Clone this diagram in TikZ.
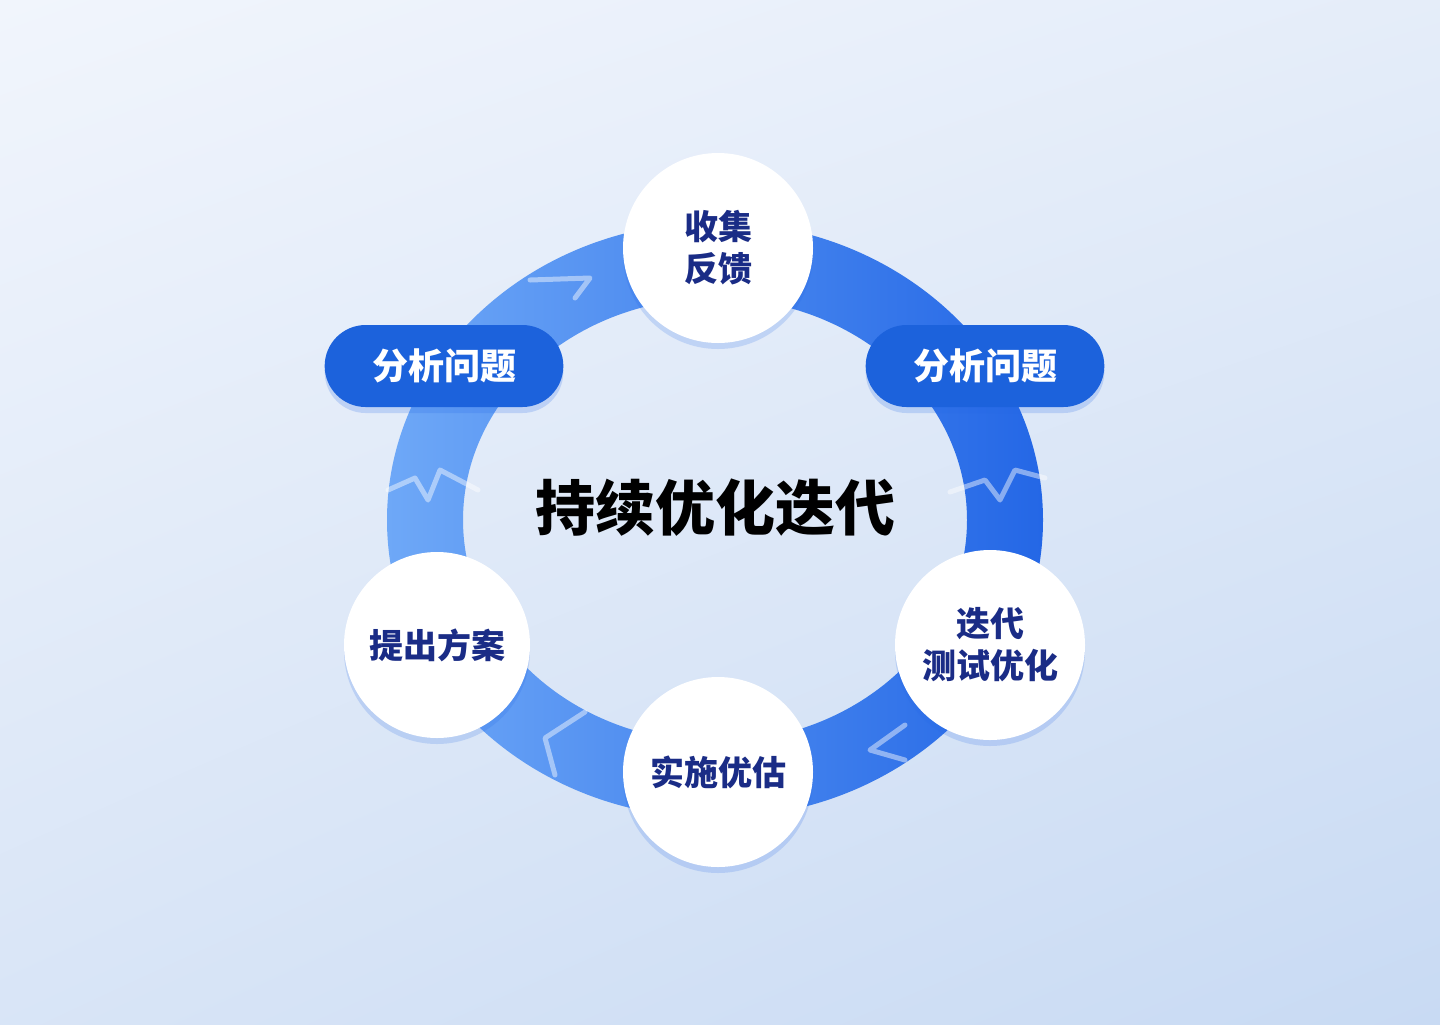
\documentclass[tikz,border=0pt]{standalone}
\usepackage{fontspec}
\setmainfont{Noto Sans CJK SC}
\usetikzlibrary{shadows,shapes.misc,shadings}
\definecolor{bgA}{HTML}{F1F5FC}
\definecolor{bgB}{HTML}{C8DAF3}
\definecolor{ringL}{HTML}{6EA8F7}
\definecolor{ringR}{HTML}{2467E6}
\definecolor{pill}{HTML}{1C62DC}
\definecolor{navy}{HTML}{1A2C86}
\begin{document}
\begin{tikzpicture}[x=0.5pt,y=-0.5pt,
  stepnode/.style={circle,minimum size=95pt,inner sep=0pt,fill=white,
    drop shadow={shadow xshift=0pt,shadow yshift=-3pt,fill=ringR,opacity=0.18},
    font=\bfseries\fontsize{17}{21}\selectfont,text=navy,align=center},
  pillbox/.style={rounded rectangle,minimum width=126pt,minimum height=41pt,fill=pill,
    drop shadow={shadow xshift=0pt,shadow yshift=-3pt,fill=ringR,opacity=0.2},
    font=\bfseries\fontsize{18}{20}\selectfont,text=white},
  ringmark/.style={white,opacity=0.45,line width=2.5pt,line cap=round,line join=round}]
\shade[upper left=bgA,upper right=bgA!70!bgB,lower left=bgA!40!bgB,lower right=bgB] (0,0) rectangle (1440,1024);
\useasboundingbox (0,0) rectangle (1440,1024);
% ring
\shade[left color=ringL,right color=ringR,even odd rule]
  (715,520) ellipse [x radius=328,y radius=298]
  (715,520) ellipse [x radius=252,y radius=222];
% marks
\draw[ringmark] (530,280) -- (590,278) -- (575,298);
\draw[ringmark] (388,490) -- (415,478) -- (428,500) -- (440,470) -- (478,490);
\draw[ringmark] (950,492) -- (985,480) -- (1000,500) -- (1015,470) -- (1045,478);
\draw[ringmark] (905,725) -- (870,750) -- (905,760);
\draw[ringmark] (585,712) -- (545,738) -- (555,775);
% nodes
\node[stepnode] (fb) at (718,248) {收集\\反馈};
\node[stepnode] (test) at (990,645) {迭代\\测试优化};
\node[stepnode] (impl) at (718,772) {实施优估};
\node[stepnode,minimum size=93pt] (plan) at (437,645) {提出方案};
\node[pillbox] (anL) at (444,366) {分析问题};
\node[pillbox] (anR) at (985,366) {分析问题};
\node[font=\bfseries\fontsize{30}{34}\selectfont,text=black] (title) at (715,508) {持续优化迭代};
\end{tikzpicture}
\end{document}
